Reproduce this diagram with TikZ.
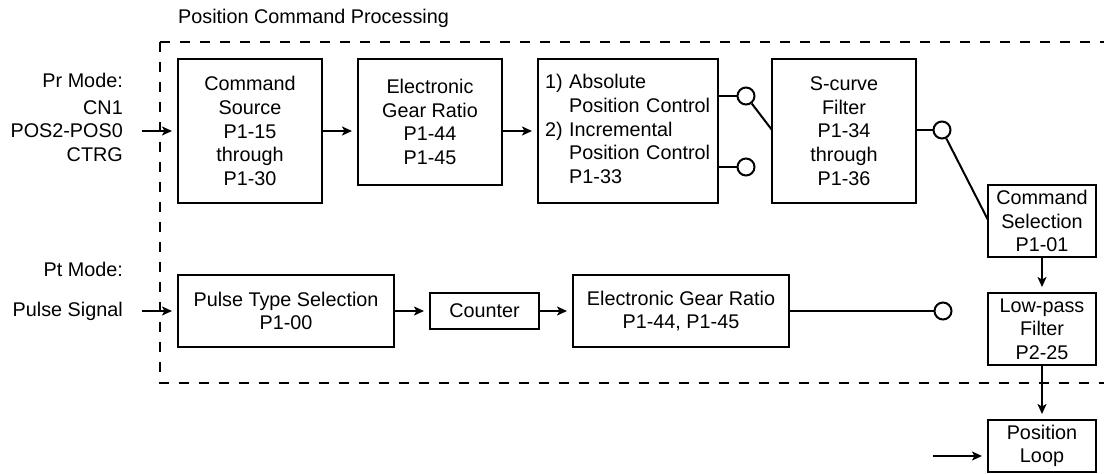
\documentclass[tikz,border=0pt]{standalone}
\usepackage{fontspec}
\setmainfont{Liberation Sans}
\usetikzlibrary{arrows.meta}
\begin{document}
\begin{tikzpicture}[x=1pt,y=-1pt,
  font=\fontsize{19.8}{23.7}\selectfont,
  box/.style={draw, line width=2pt, inner sep=0pt, align=center},
  sw/.style={draw, circle, line width=2pt, minimum size=17pt, inner sep=0pt},
  wire/.style={line width=2pt},
  arr/.style={line width=2pt, -{Stealth[length=10pt,width=9pt,inset=2.5pt]}, shorten >=5pt},
  dashbox/.style={line width=2pt, dash pattern=on 10pt off 10pt},
  lbl/.style={inner sep=0pt}]
\useasboundingbox (0,0) rectangle (1104,474);

% title and dashed frame
\node[lbl, anchor=base west] (title) at (178,23) {Position Command Processing};
\draw[dashbox] (160,42) -- (1104,42);
\draw[dashbox] (160,42) -- (160,383) -- (1104,383);

% left labels
\node[lbl, anchor=east] (prmode) at (123,80) {Pr Mode:};
\node[lbl, anchor=east, align=right] (cn1) at (123,131) {CN1\\POS2-POS0\\CTRG};
\node[lbl, anchor=east] (ptmode) at (123,269) {Pt Mode:};
\node[lbl, anchor=east] (pulse) at (123,311) {Pulse Signal};

% top row boxes
\node[box, minimum width=144pt, minimum height=144pt] (cmdsrc) at (250,131)
  {Command\\Source\\P1-15\\through\\P1-30};
\node[box, minimum width=144pt, minimum height=126pt] (egr1) at (430,122)
  {Electronic\\Gear Ratio\\P1-44\\P1-45};
\node[box, minimum width=180pt, minimum height=144pt, text width=166pt,
      inner xsep=7pt, align=left] (mode) at (628,131)
  {1) Absolute\\\phantom{1) }Position Control\\2) Incremental\\\phantom{1) }Position Control\\\phantom{1) }P1-33};
\node[box, minimum width=144pt, minimum height=144pt] (scurve) at (844,131)
  {S-curve\\Filter\\P1-34\\through\\P1-36};

% right column boxes
\node[box, minimum width=108pt, minimum height=72pt] (cs) at (1042,221)
  {Command\\Selection\\P1-01};
\node[box, minimum width=108pt, minimum height=72pt] (lp) at (1042,329)
  {Low-pass\\Filter\\P2-25};
\node[box, minimum width=108pt, minimum height=52pt] (ploop) at (1042,446)
  {Position\\Loop};

% bottom row boxes
\node[box, minimum width=216pt, minimum height=72pt] (pts) at (286,311)
  {Pulse Type Selection\\P1-00};
\node[box, minimum width=109pt, minimum height=36pt] (counter) at (484.5,311)
  {Counter};
\node[box, minimum width=216pt, minimum height=72pt] (egr2) at (681,311)
  {Electronic Gear Ratio\\P1-44, P1-45};

% switch contacts
\node[sw] (c1) at (746,96) {};
\node[sw] (c2) at (746,167) {};
\node[sw] (c3) at (942,130) {};
\node[sw] (c4) at (943,311) {};

% free ends
\coordinate (inA) at (142,131);
\coordinate (inB) at (142,311);
\coordinate (inC) at (933,456);
\coordinate (swA) at (772,130);
\coordinate (swB) at (988,220);

% connectors
\draw[arr] (inA) -- (cmdsrc.west);
\draw[arr] (cmdsrc.east) -- (cmdsrc.east -| egr1.west);
\draw[arr] (egr1.east |- cmdsrc.east) -- (mode.west);
\draw[wire] (mode.east |- c1) -- (c1);
\draw[wire] (mode.east |- c2) -- (c2);
\draw[wire] (c1) -- (swA);
\draw[wire] (scurve.east |- c3) -- (c3);
\draw[wire] (c3) -- (swB);
\draw[arr] (cs.south) -- (lp.north);
\draw[arr] (lp.south) -- (ploop.north);
\draw[arr] (inC) -- (inC -| ploop.west);

\draw[arr] (inB) -- (pts.west);
\draw[arr] (pts.east) -- (counter.west);
\draw[arr] (counter.east) -- (egr2.west);
\draw[wire] (egr2.east) -- (c4);
\end{tikzpicture}
\end{document}
